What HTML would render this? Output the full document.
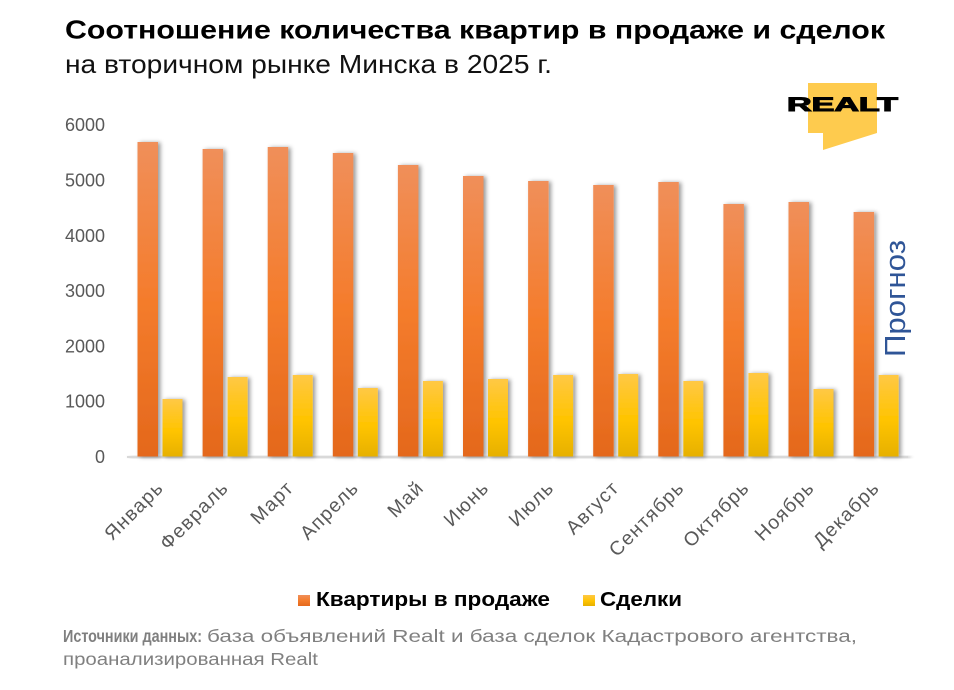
<!DOCTYPE html>
<html>
<head>
<meta charset="utf-8">
<style>
html,body{margin:0;padding:0;background:#fff;}
svg{display:block;}
text{font-family:"Liberation Sans","Noto Sans CJK SC",sans-serif;}
</style>
</head>
<body>
<svg width="954" height="690" viewBox="0 0 954 690" xmlns="http://www.w3.org/2000/svg">
<defs>
  <linearGradient id="go" x1="0" y1="0" x2="0" y2="1">
    <stop offset="0" stop-color="#f08f5a"/>
    <stop offset="0.5" stop-color="#f47c2c"/>
    <stop offset="1" stop-color="#e4681c"/>
  </linearGradient>
  <linearGradient id="gy" x1="0" y1="0" x2="0" y2="1">
    <stop offset="0" stop-color="#ffc845"/>
    <stop offset="0.55" stop-color="#ffc400"/>
    <stop offset="1" stop-color="#e6b000"/>
  </linearGradient>
  <filter id="sh" x="-60%" y="-10%" width="220%" height="120%">
    <feDropShadow dx="2.5" dy="0.5" stdDeviation="2" flood-color="#000" flood-opacity="0.4"/>
  </filter>
</defs>
<rect width="954" height="690" fill="#fff"/>

<!-- Title -->
<text x="65" y="38.5" font-size="26" font-weight="bold" fill="#000" textLength="820" lengthAdjust="spacingAndGlyphs">Соотношение количества квартир в продаже и сделок</text>
<text x="65" y="73" font-size="26" fill="#111" textLength="487" lengthAdjust="spacingAndGlyphs">на вторичном рынке Минска в 2025 г.</text>

<!-- Logo -->
<polygon points="808,83 877,83 877,133 823,150 823,133 808,133" fill="#fecb4e"/>
<text x="787" y="111" font-size="19" font-weight="bold" fill="#000" stroke="#000" stroke-width="1" textLength="111" lengthAdjust="spacingAndGlyphs">REALT</text>

<!-- Y axis labels -->
<g font-size="18" fill="#595959" text-anchor="end">
  <text x="105" y="463">0</text>
  <text x="105" y="407.7">1000</text>
  <text x="105" y="352.4">2000</text>
  <text x="105" y="297.1">3000</text>
  <text x="105" y="241.8">4000</text>
  <text x="105" y="186.5">5000</text>
  <text x="105" y="131.2">6000</text>
</g>

<!-- axis line -->
<rect x="127" y="456" width="781" height="2" fill="#d9d9d9" filter="url(#sh)"/>

<!-- Bars -->
<g filter="url(#sh)">
  <rect x="137.5" y="142" width="20.5" height="314.5" fill="url(#go)"/>
  <rect x="162.5" y="399" width="20" height="57.5" fill="url(#gy)"/>
  <rect x="202.6" y="149" width="20.5" height="307.5" fill="url(#go)"/>
  <rect x="227.6" y="377" width="20" height="79.5" fill="url(#gy)"/>
  <rect x="267.7" y="147" width="20.5" height="309.5" fill="url(#go)"/>
  <rect x="292.7" y="375" width="20" height="81.5" fill="url(#gy)"/>
  <rect x="332.8" y="153" width="20.5" height="303.5" fill="url(#go)"/>
  <rect x="357.8" y="388" width="20" height="68.5" fill="url(#gy)"/>
  <rect x="397.9" y="165" width="20.5" height="291.5" fill="url(#go)"/>
  <rect x="422.9" y="381" width="20" height="75.5" fill="url(#gy)"/>
  <rect x="463.0" y="176" width="20.5" height="280.5" fill="url(#go)"/>
  <rect x="488.0" y="379" width="20" height="77.5" fill="url(#gy)"/>
  <rect x="528.1" y="181" width="20.5" height="275.5" fill="url(#go)"/>
  <rect x="553.1" y="375" width="20" height="81.5" fill="url(#gy)"/>
  <rect x="593.2" y="185" width="20.5" height="271.5" fill="url(#go)"/>
  <rect x="618.2" y="374" width="20" height="82.5" fill="url(#gy)"/>
  <rect x="658.3" y="182" width="20.5" height="274.5" fill="url(#go)"/>
  <rect x="683.3" y="381" width="20" height="75.5" fill="url(#gy)"/>
  <rect x="723.4" y="204" width="20.5" height="252.5" fill="url(#go)"/>
  <rect x="748.4" y="373" width="20" height="83.5" fill="url(#gy)"/>
  <rect x="788.5" y="202" width="20.5" height="254.5" fill="url(#go)"/>
  <rect x="813.5" y="389" width="20" height="67.5" fill="url(#gy)"/>
  <rect x="853.6" y="212" width="20.5" height="244.5" fill="url(#go)"/>
  <rect x="878.6" y="375" width="20" height="81.5" fill="url(#gy)"/>
</g>

<!-- Прогноз -->
<text transform="translate(905,357) rotate(-90)" font-size="29" fill="#2f5597" textLength="117" lengthAdjust="spacingAndGlyphs">Прогноз</text>

<!-- X labels -->
<g font-size="19.5" fill="#595959" text-anchor="end" letter-spacing="1.2">
  <text transform="translate(164.6,489) rotate(-45)">Январь</text>
  <text transform="translate(229.7,489) rotate(-45)">Февраль</text>
  <text transform="translate(294.8,489) rotate(-45)">Март</text>
  <text transform="translate(359.9,489) rotate(-45)">Апрель</text>
  <text transform="translate(425.0,489) rotate(-45)">Май</text>
  <text transform="translate(490.1,489) rotate(-45)">Июнь</text>
  <text transform="translate(555.2,489) rotate(-45)">Июль</text>
  <text transform="translate(620.3,489) rotate(-45)">Август</text>
  <text transform="translate(685.4,489) rotate(-45)">Сентябрь</text>
  <text transform="translate(750.5,489) rotate(-45)">Октябрь</text>
  <text transform="translate(815.6,489) rotate(-45)">Ноябрь</text>
  <text transform="translate(880.7,489) rotate(-45)">Декабрь</text>
</g>

<!-- Legend -->
<rect x="298" y="595" width="12" height="11" fill="url(#go)"/>
<text x="316" y="606" font-size="20" font-weight="bold" fill="#000" textLength="234" lengthAdjust="spacingAndGlyphs">Квартиры в продаже</text>
<rect x="583" y="595" width="12" height="11" fill="url(#gy)"/>
<text x="600" y="606" font-size="20" font-weight="bold" fill="#000" textLength="82" lengthAdjust="spacingAndGlyphs">Сделки</text>

<!-- Footer -->
<text x="63" y="642" font-size="17.5" font-weight="bold" fill="#7f7f7f" textLength="139" lengthAdjust="spacingAndGlyphs">Источники данных:</text>
<text x="207" y="642" font-size="17.5" fill="#808080" textLength="650" lengthAdjust="spacingAndGlyphs">база объявлений Realt и база сделок Кадастрового агентства,</text>
<text x="63" y="665" font-size="17.5" fill="#808080" textLength="255" lengthAdjust="spacingAndGlyphs">проанализированная Realt</text>
</svg>
</body>
</html>
